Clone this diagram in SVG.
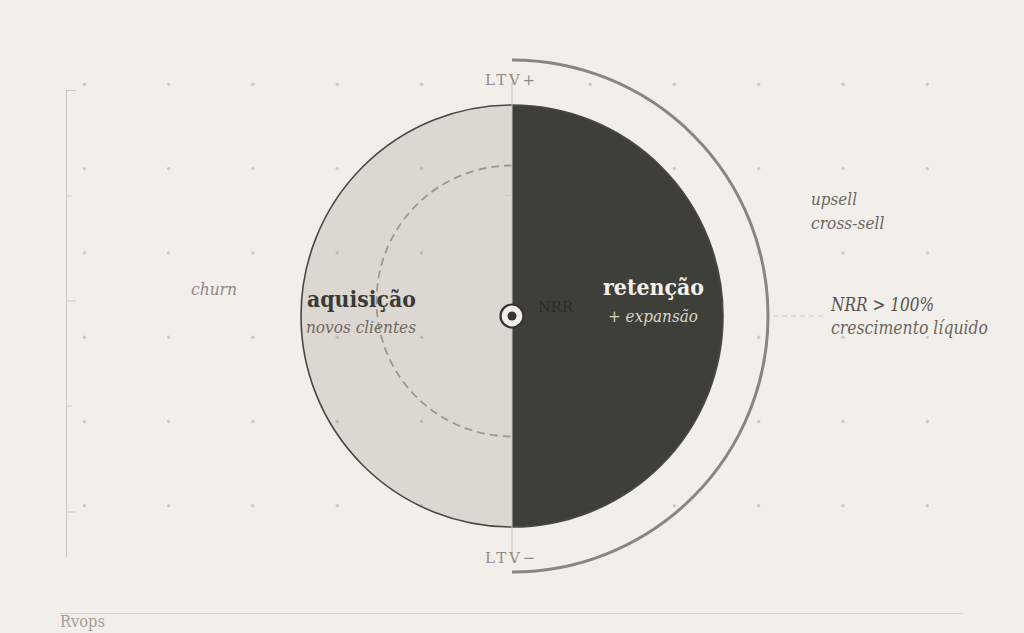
<svg xmlns="http://www.w3.org/2000/svg" width="1024" height="633" viewBox="0 0 1024 633">
<style>
.serif{font-family:"DejaVu Serif","Liberation Serif",serif}
.it{font-style:italic}
.bd{font-weight:bold}
.axis{stroke:#cbc6bf;stroke-width:1;fill:none}
.dot{fill:#48453f;opacity:0.22}
</style>
<defs>
<g id="dotrow">
<circle class="dot" cx="84.3" cy="0" r="1.7"/><circle class="dot" cx="168.6" cy="0" r="1.7"/><circle class="dot" cx="252.9" cy="0" r="1.7"/><circle class="dot" cx="337.2" cy="0" r="1.7"/><circle class="dot" cx="421.5" cy="0" r="1.7"/><circle class="dot" cx="590.1" cy="0" r="1.7"/><circle class="dot" cx="674.4" cy="0" r="1.7"/><circle class="dot" cx="758.7" cy="0" r="1.7"/><circle class="dot" cx="843" cy="0" r="1.7"/><circle class="dot" cx="927.3" cy="0" r="1.7"/>
</g>
</defs>
<rect width="1024" height="633" fill="#f2efea"/>

<g id="left-axis">
<line class="axis" x1="66.5" y1="90" x2="66.5" y2="557"/>
<line class="axis" x1="66" y1="90.5" x2="76" y2="90.5"/>
<line class="axis" x1="66" y1="196" x2="72" y2="196"/>
<line class="axis" x1="66" y1="301" x2="76" y2="301"/>
<line class="axis" x1="66" y1="406" x2="72" y2="406"/>
<line class="axis" x1="66" y1="512" x2="76" y2="512"/>
</g>

<g id="baseline">
<line x1="60" y1="613.5" x2="963" y2="613.5" stroke="#d8d3cc" stroke-width="1"/>
<text class="serif" x="60" y="627" font-size="16.5" fill="#a49e96" textLength="45" lengthAdjust="spacingAndGlyphs">Rvops</text>
</g>

<g id="wheel">
<path d="M512 105 A211 211 0 0 0 512 527 Z" fill="#ddd7d1"/>
<path d="M512 165.5 A135.5 135.5 0 0 0 512 436.5" fill="none" stroke="#9d978f" stroke-width="1.8" stroke-dasharray="8 5"/>
<path d="M512 105 A211 211 0 0 1 512 527 Z" fill="#3f3f3a"/>
<circle cx="512" cy="316" r="211" fill="none" stroke="#4a4843" stroke-width="1.6"/>
</g>

<g id="grid">
<use href="#dotrow" y="84.3"/>
<use href="#dotrow" y="168.6"/>
<use href="#dotrow" y="252.9"/>
<use href="#dotrow" y="337.2"/>
<use href="#dotrow" y="421.5"/>
<use href="#dotrow" y="505.8"/>
</g>

<g id="connectors">
<line x1="512" y1="82" x2="512" y2="556" stroke="#c9c3bc" stroke-width="1"/>
<line x1="505" y1="195.5" x2="512" y2="195.5" stroke="#c9c3bc" stroke-width="1"/>
<path d="M512 60 A256 256 0 0 1 512 572" fill="none" stroke="#8a8580" stroke-width="3"/>
<line x1="773" y1="316" x2="823" y2="316" stroke="#c9c3bc" stroke-width="1" stroke-dasharray="5 4"/>
</g>

<g id="ltv-plus">
<text class="serif" x="485" y="85" font-size="15" fill="#8f8a84" textLength="50" lengthAdjust="spacing">LTV+</text>
</g>
<g id="ltv-minus">
<text class="serif" x="485" y="563" font-size="15" fill="#8f8a84" textLength="50" lengthAdjust="spacing">LTV−</text>
</g>

<g id="aquisicao">
<text class="serif bd" x="307" y="307" font-size="22" fill="#3b3a36" textLength="109" lengthAdjust="spacingAndGlyphs">aquisição</text>
<text class="serif it" x="306" y="333" font-size="17" fill="#6e6963" textLength="110" lengthAdjust="spacingAndGlyphs">novos clientes</text>
</g>

<g id="retencao">
<text class="serif bd" x="603" y="295" font-size="22" fill="#f4f1ec" textLength="101" lengthAdjust="spacingAndGlyphs">retenção</text>
<text class="serif it" x="608" y="321.5" font-size="17" fill="#d9d3cb" textLength="90" lengthAdjust="spacingAndGlyphs">+ expansão</text>
</g>

<g id="nrr-center">
<text class="serif" x="538" y="311.5" font-size="15" fill="#2c2c28" textLength="35" lengthAdjust="spacingAndGlyphs">NRR</text>
<circle cx="512" cy="316" r="11.5" fill="#f2efea" stroke="#35342f" stroke-width="2.2"/>
<circle cx="512" cy="316" r="4.5" fill="#35342f"/>
</g>

<g id="churn">
<text class="serif it" x="191" y="295" font-size="17" fill="#8f8a84" textLength="46" lengthAdjust="spacingAndGlyphs">churn</text>
</g>

<g id="upsell">
<text class="serif it" x="811" y="205" font-size="17" fill="#6b6661" textLength="46" lengthAdjust="spacingAndGlyphs">upsell</text>
<text class="serif it" x="811" y="228.5" font-size="17" fill="#6b6661" textLength="73.5" lengthAdjust="spacingAndGlyphs">cross-sell</text>
</g>

<g id="nrr-growth">
<text class="serif it" x="831" y="311" font-size="18" fill="#57534e" textLength="103" lengthAdjust="spacingAndGlyphs">NRR &gt; 100%</text>
<text class="serif it" x="831" y="334" font-size="18" fill="#6b6661" textLength="157" lengthAdjust="spacingAndGlyphs">crescimento líquido</text>
</g>
</svg>
